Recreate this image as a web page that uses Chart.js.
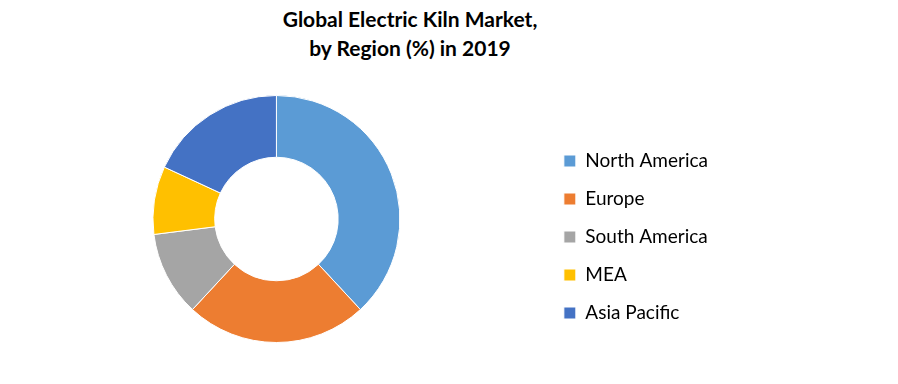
<script src="https://cdn.jsdelivr.net/npm/chart.js"></script>

<div style="position: absolute; left: 0; top: 4px; width: 820px; text-align: center;
            font: bold 21px Lato; line-height: 29.4px; color: #000;">
  Global Electric Kiln Market,<br>by Region (%) in 2019
</div>
<div style="position: absolute; left: 0; top: 0; width: 898px; height: 384px;">
  <canvas id="kilnChart"></canvas>
</div>

<script>
  const regions = ['North America', 'Europe', 'South America', 'MEA', 'Asia Pacific'];
  const shares = [38.1, 23.8, 11.1, 8.9, 18.1];
  const colours = ['#5B9BD5', '#ED7D31', '#A5A5A5', '#FFC000', '#4472C4'];

  document.body.style.margin = '0';

  new Chart(document.getElementById('kilnChart'), {
    type: 'doughnut',
    data: {
      labels: regions,
      datasets: [{
        data: shares,
        backgroundColor: colours,
        borderColor: '#ffffff',
        borderWidth: 1
      }]
    },
    options: {
      responsive: true,
      maintainAspectRatio: false,
      animation: false,
      cutout: '50%',
      layout: { padding: { left: 8, right: 180, top: 95, bottom: 41 } },
      plugins: {
        legend: {
          position: 'right',
          title: { display: true, text: '', font: { size: 30, lineHeight: 1.2 }, padding: 0 },
          labels: {
            color: '#000000',
            font: { family: 'Lato', size: 19, lineHeight: 1.2 },
            boxWidth: 12,
            boxHeight: 12,
            padding: 19
          }
        },
        tooltip: { enabled: false }
      }
    }
  });
</script>
